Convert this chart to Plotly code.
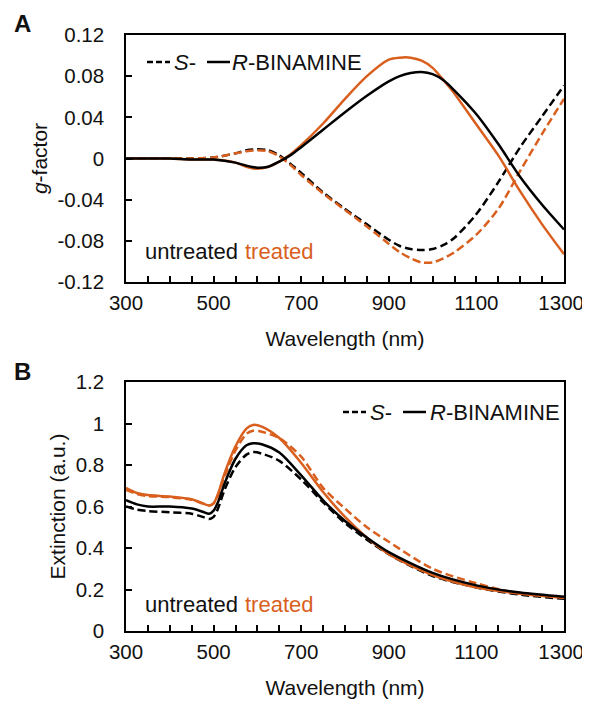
import plotly.graph_objects as go

# ---------------- data ----------------
wl_a = [300, 350, 400, 450, 500, 550, 575, 600, 625, 650, 675, 700, 750, 800, 850, 900,
        925, 950, 975, 1000, 1025, 1050, 1100, 1150, 1200, 1250, 1300]
g_untreated_R = [0.000, 0.000, 0.000, -0.001, -0.001, -0.004, -0.007, -0.009, -0.008, -0.003, 0.003,
                 0.011, 0.028, 0.045, 0.061, 0.075, 0.080, 0.083, 0.084, 0.082, 0.076, 0.066,
                 0.043, 0.014, -0.018, -0.045, -0.069]
g_treated_R = [0.000, 0.000, 0.000, -0.001, -0.001, -0.004, -0.008, -0.010, -0.008, -0.003, 0.004,
               0.013, 0.034, 0.058, 0.080, 0.096, 0.098, 0.098, 0.095, 0.088, 0.076, 0.063,
               0.033, 0.003, -0.032, -0.064, -0.093]
g_untreated_S = [0.000, 0.000, 0.000, 0.000, 0.001, 0.005, 0.008, 0.009, 0.008, 0.003, -0.005,
                 -0.014, -0.033, -0.049, -0.064, -0.079, -0.085, -0.088, -0.089, -0.088, -0.084,
                 -0.077, -0.054, -0.023, 0.011, 0.041, 0.071]
g_treated_S = [0.000, 0.000, 0.000, 0.000, 0.001, 0.005, 0.007, 0.008, 0.007, 0.002, -0.006,
               -0.016, -0.034, -0.050, -0.066, -0.083, -0.091, -0.097, -0.101, -0.101, -0.097,
               -0.091, -0.074, -0.049, -0.012, 0.024, 0.058]

wl_b = [300, 325, 350, 400, 450, 475, 490, 500, 510, 525, 550, 575, 590, 610, 650, 700,
        750, 800, 850, 900, 1000, 1100, 1200, 1300]
ext_untreated_R = [0.63, 0.61, 0.60, 0.60, 0.59, 0.575, 0.565, 0.58, 0.62, 0.71, 0.83, 0.895, 0.905,
                   0.90, 0.86, 0.75, 0.63, 0.53, 0.45, 0.38, 0.28, 0.22, 0.185, 0.165]
ext_treated_R = [0.69, 0.665, 0.655, 0.648, 0.635, 0.615, 0.605, 0.615, 0.66, 0.76, 0.89, 0.975, 0.993,
                 0.985, 0.93, 0.81, 0.67, 0.55, 0.45, 0.37, 0.27, 0.21, 0.18, 0.16]
ext_untreated_S = [0.60, 0.585, 0.578, 0.572, 0.565, 0.55, 0.54, 0.55, 0.59, 0.68, 0.79, 0.85, 0.862,
                   0.855, 0.82, 0.73, 0.62, 0.52, 0.44, 0.37, 0.265, 0.21, 0.175, 0.155]
ext_treated_S = [0.68, 0.66, 0.65, 0.645, 0.632, 0.615, 0.605, 0.615, 0.655, 0.745, 0.87, 0.95, 0.965,
                 0.96, 0.93, 0.84, 0.69, 0.59, 0.50, 0.43, 0.30, 0.23, 0.18, 0.165]

x_tickvals = [300, 500, 700, 900, 1100, 1300]
x_ticktext = ["300", "500", "700", "900", "1100", "1300\u00a0"]
ya_tickvals = [-0.12, -0.08, -0.04, 0, 0.04, 0.08, 0.12]
ya_ticktext = ["-0.12", "-0.08", "-0.04", "0", "0.04", "0.08", "0.12"]
yb_tickvals = [0, 0.2, 0.4, 0.6, 0.8, 1.0, 1.2]
yb_ticktext = ["0", "0.2", "0.4", "0.6", "0.8", "1", "1.2"]

# ---------------- style ----------------
OFF = 8                      # page body margin offset
W, H = 590 - OFF, 702 - OFF
BLACK = "#000000"
ORANGE = "#D95F1E"
TXT = "#111111"
FONT = "Liberation Sans, Arial, sans-serif"
FS = 20.5
FS_T = 22
LW = 2.5
DASH = "8px,4px"

def px(x):
    return (x - OFF) / W

def py(y):
    return 1 - (y - OFF) / H

fig = go.Figure()

def add(x, y, color, dash, xa, ya):
    fig.add_trace(go.Scatter(x=x, y=y, mode="lines", xaxis=xa, yaxis=ya, showlegend=False,
                             line=dict(color=color, width=LW, dash=dash, shape="spline", smoothing=0.8),
                             hoverinfo="skip"))

add(wl_a, g_untreated_S, BLACK, DASH, "x", "y")
add(wl_a, g_treated_S, ORANGE, DASH, "x", "y")
add(wl_a, g_treated_R, ORANGE, "solid", "x", "y")
add(wl_a, g_untreated_R, BLACK, "solid", "x", "y")

add(wl_b, ext_treated_S, ORANGE, DASH, "x2", "y2")
add(wl_b, ext_untreated_S, BLACK, DASH, "x2", "y2")
add(wl_b, ext_treated_R, ORANGE, "solid", "x2", "y2")
add(wl_b, ext_untreated_R, BLACK, "solid", "x2", "y2")

xdom = [px(126), px(564)]
dom_a = [py(282), py(35)]
dom_b = [py(631), py(382)]

tickfont = dict(family=FONT, size=FS, color=TXT)
titlefont = dict(family=FONT, size=21, color=TXT)

def xaxis(anchor):
    return dict(domain=xdom, anchor=anchor, range=[300, 1300], tickmode="array",
                tickvals=x_tickvals, ticktext=x_ticktext, ticks="inside", ticklen=6,
                tickwidth=1.5, tickcolor=BLACK, showline=True, linecolor=BLACK, linewidth=1.5,
                mirror=True, showgrid=False, zeroline=False, tickfont=tickfont,
                ticklabelstandoff=2, automargin=False,
                minor=dict(tickmode="linear", tick0=300, dtick=50, ticks="inside", ticklen=6,
                           tickwidth=1.5, tickcolor=BLACK, showgrid=False),
                title=dict(text="Wavelength (nm)", font=titlefont, standoff=18))

def yaxis(anchor, dom, rng, tv, tt, title):
    return dict(domain=dom, anchor=anchor, range=rng, tickmode="array", tickvals=tv,
                ticktext=tt, ticks="inside", ticklen=6, tickwidth=1.5, tickcolor=BLACK,
                showline=True, linecolor=BLACK, linewidth=1.5, mirror=True, showgrid=False,
                zeroline=False, tickfont=tickfont, ticklabelstandoff=16, automargin=False,
                title=dict(text=title, font=titlefont, standoff=4))

fig.update_layout(
    width=W, height=H, autosize=False,
    margin=dict(l=0, r=0, t=0, b=0),
    paper_bgcolor="white", plot_bgcolor="white",
    font=dict(family=FONT, color=TXT),
    xaxis=xaxis("y"),
    yaxis=yaxis("x", dom_a, [-0.12, 0.12], ya_tickvals, ya_ticktext, "<i>g</i>-factor"),
    xaxis2=xaxis("y2"),
    yaxis2=yaxis("x2", dom_b, [0, 1.2], yb_tickvals, yb_ticktext, "Extinction (a.u.)"),
)

annots = []
shapes = []

def text(x, y, s, size=FS_T, anchor="left", color=TXT):
    annots.append(dict(x=px(x), y=py(y), xref="paper", yref="paper", text=s, showarrow=False,
                       xanchor=anchor, yanchor="middle",
                       font=dict(family=FONT, size=size, color=color)))

def seg(x0, x1, y, dash):
    shapes.append(dict(type="line", xref="paper", yref="paper", x0=px(x0), x1=px(x1),
                       y0=py(y), y1=py(y), line=dict(color=BLACK, width=LW, dash=dash)))

# panel labels
text(22, 24, "<b>A</b>", size=24, anchor="center")
text(22, 371, "<b>B</b>", size=24, anchor="center")

# legends
seg(147, 170, 62, "6px,3px")
text(172, 62, "<i>S</i>-")
seg(207, 230, 62, "solid")
text(230, 62, "<i>R</i>-BINAMINE")

seg(343, 366, 412, "6px,3px")
text(368, 412, "<i>S</i>-")
seg(403, 426, 412, "solid")
text(428, 412, "<i>R</i>-BINAMINE")

for yy in (252, 604):
    text(143, yy, "untreated")
    text(243, yy, "treated", color=ORANGE)

fig.update_layout(annotations=annots, shapes=shapes)

fig.write_html("out.html")
